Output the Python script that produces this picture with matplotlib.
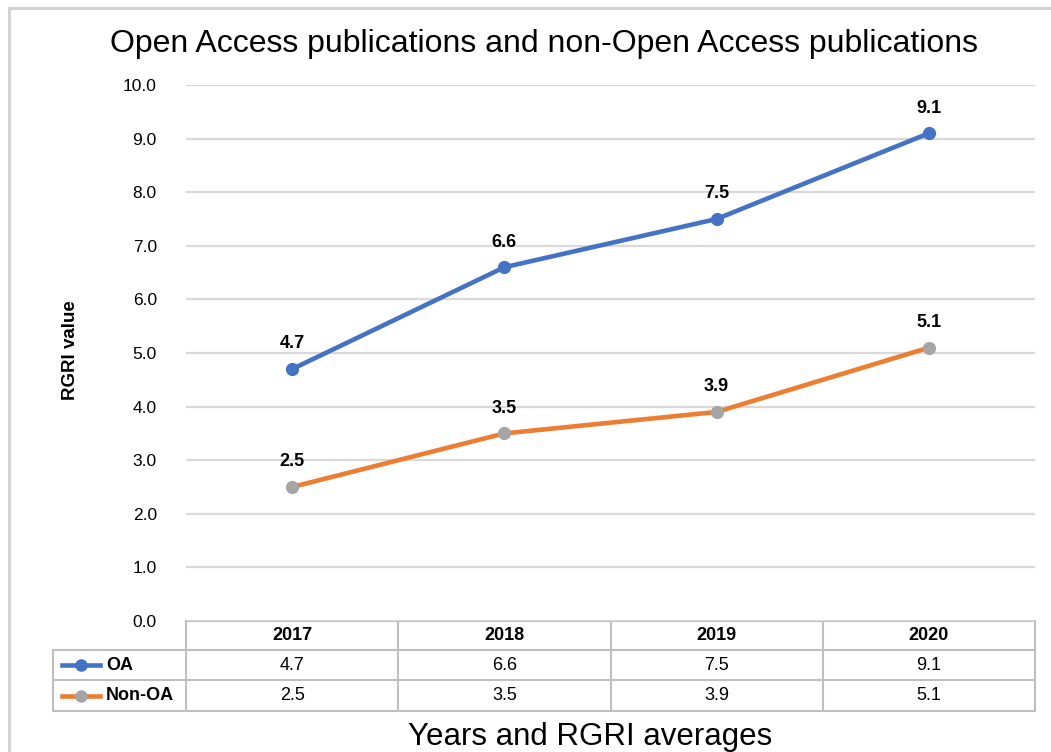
import matplotlib.pyplot as plt

plt.rcParams['font.family'] = ['Liberation Sans', 'DejaVu Sans']

years = ['2017', '2018', '2019', '2020']
oa = [4.7, 6.6, 7.5, 9.1]
non_oa = [2.5, 3.5, 3.9, 5.1]
series_names = ['OA', 'Non-OA']
yticks = [0, 1, 2, 3, 4, 5, 6, 7, 8, 9, 10]

blue = '#4472C4'
orange = '#ED7D31'
grey = '#A5A5A5'
grid_c = '#D9D9D9'
table_c = '#BFBFBF'

W, H = 1051, 752
fig = plt.figure(figsize=(W / 100, H / 100), dpi=100)

# plot area, columns of the table line up with it
left, right, top, bottom = 186, 1035, 85, 621
ax = fig.add_axes([left / W, 1 - bottom / H, (right - left) / W, (bottom - top) / H])
x = list(range(len(years)))
ax.set_xlim(-0.5, len(years) - 0.5)
ax.set_ylim(0, 10)
ax.set_yticks(yticks)
ax.set_yticklabels(['%.1f' % v for v in yticks], fontsize=12.5)
ax.set_xticks([])
ax.tick_params(axis='y', length=0, pad=21)
for s in ax.spines.values():
    s.set_visible(False)
for v in yticks:
    ax.axhline(v, color=grid_c, lw=1.6, zorder=0)

ax.plot(x, oa, color=blue, lw=3.3, marker='o', ms=8.5, mfc=blue, mec=blue, zorder=3)
ax.plot(x, non_oa, color=orange, lw=3.3, marker='o', ms=8.5, mfc=grey, mec=grey, zorder=3)
for xi, v in zip(x, oa):
    ax.annotate('%.1f' % v, (xi, v), xytext=(0, 12), textcoords='offset points',
                ha='center', va='bottom', fontsize=13, fontweight='bold')
for xi, v in zip(x, non_oa):
    ax.annotate('%.1f' % v, (xi, v), xytext=(0, 12), textcoords='offset points',
                ha='center', va='bottom', fontsize=13, fontweight='bold')

ax.set_ylabel('RGRI value', fontsize=13.5, fontweight='bold')
ax.yaxis.set_label_coords(-0.126, 0.505)

fig.text(544 / W, 1 - 44 / H, 'Open Access publications and non-Open Access publications',
         ha='center', va='center', fontsize=23)
fig.text(590 / W, 1 - 737 / H, 'Years and RGRI averages', ha='center', va='center', fontsize=22.5)

# overlay in pixel coordinates for the frame and the data table
ov = fig.add_axes([0, 0, 1, 1], zorder=-1)
ov.set_xlim(0, W)
ov.set_ylim(H, 0)
ov.axis('off')

# outer chart frame
ov.plot([9, W + 5], [7.5, 7.5], color='#D0D0D0', lw=2)
ov.plot([9, 9], [7.5, H + 5], color='#D0D0D0', lw=2)

rows = [621, 650, 680, 711]
colw = (right - left) / len(years)
edges = [left + i * colw for i in range(len(years) + 1)]
lab_left = 53

ov.plot([left, right], [rows[0]] * 2, color=table_c, lw=1.5)
for r in rows[1:]:
    ov.plot([lab_left, right], [r] * 2, color=table_c, lw=1.5)
for e in edges:
    ov.plot([e, e], [rows[0], rows[-1]], color=table_c, lw=1.5)
ov.plot([lab_left, lab_left], [rows[1], rows[-1]], color=table_c, lw=1.5)

for i, yr in enumerate(years):
    cx = (edges[i] + edges[i + 1]) / 2
    ov.text(cx, (rows[0] + rows[1]) / 2, yr, ha='center', va='center',
            fontsize=13, fontweight='bold')
    ov.text(cx, (rows[1] + rows[2]) / 2, '%.1f' % oa[i], ha='center', va='center', fontsize=13)
    ov.text(cx, (rows[2] + rows[3]) / 2, '%.1f' % non_oa[i], ha='center', va='center', fontsize=13)

# legend keys inside the row labels
for k, (name, lc, mc) in enumerate(zip(series_names, [blue, orange], [blue, grey])):
    cy = (rows[k + 1] + rows[k + 2]) / 2
    ov.plot([62, 100], [cy, cy], color=lc, lw=3.3)
    ov.plot([81], [cy], marker='o', ms=8, color=mc)
    ov.text(106, cy, name, ha='left', va='center', fontsize=13, fontweight='bold')

fig.savefig('out.png', dpi=100)
